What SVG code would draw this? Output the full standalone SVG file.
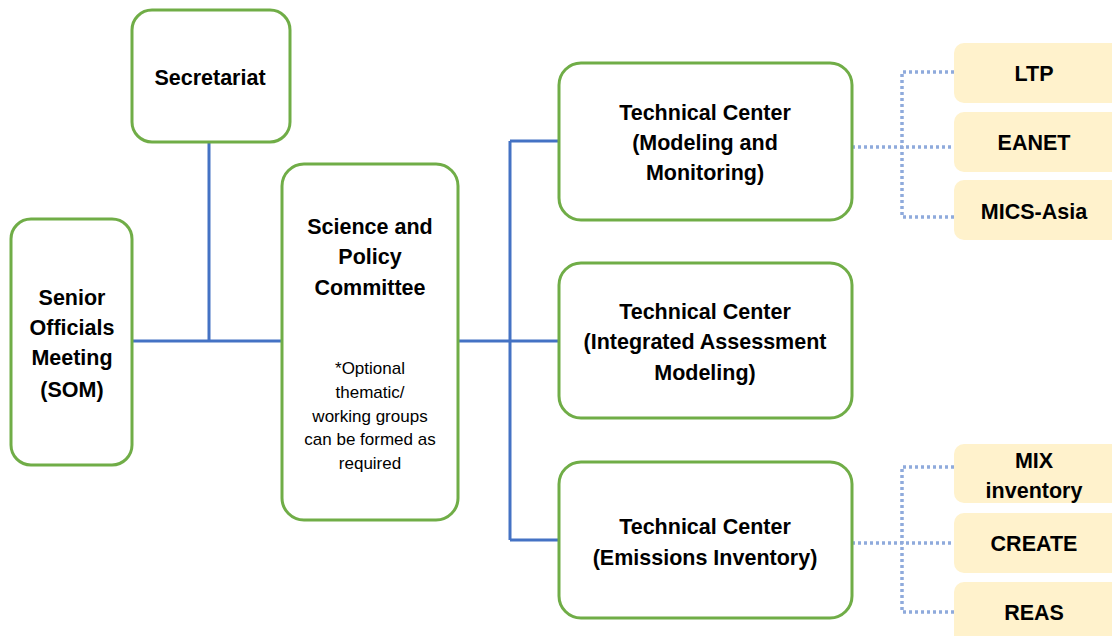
<svg xmlns="http://www.w3.org/2000/svg" width="1112" height="636" viewBox="0 0 1112 636">
<style>
.box{fill:#fff;stroke:#70AD47;stroke-width:3}
.sub{fill:#FFF2CC;stroke:none}
.t{font-family:"Liberation Sans",Arial,sans-serif;font-weight:bold;font-size:21.5px;fill:#000;text-anchor:middle}
.s{font-family:"Liberation Sans",Arial,sans-serif;font-size:17px;fill:#000;text-anchor:middle}
.ln{stroke:#4472C4;stroke-width:3;fill:none}
.dt{stroke:#8FAADC;stroke-width:3.5;fill:none;stroke-dasharray:3 3}
</style>
<rect width="1112" height="636" fill="#fff"/>
<g id="connectors">
<path class="ln" d="M209,142 V341 M132,341 H282 M458,341 H559 M510,141 V540 M510,141 H559 M510,540 H559"/>
<path class="dt" d="M852,147 H954 M954,72 H902 V217 H954"/>
<path class="dt" d="M852,543 H954 M954,467 H902 V612 H954"/>
</g>
<g id="secretariat">
<rect class="box" x="132" y="10" width="158" height="132" rx="20"/>
<text class="t" x="210" y="85">Secretariat</text>
</g>
<g id="som">
<rect class="box" x="11" y="219" width="121" height="246" rx="20"/>
<text class="t" x="72" y="305">Senior</text>
<text class="t" x="72" y="335">Officials</text>
<text class="t" x="72" y="365">Meeting</text>
<text class="t" x="72" y="397">(SOM)</text>
</g>
<g id="spc">
<rect class="box" x="282" y="164" width="176" height="356" rx="22"/>
<text class="t" x="370" y="234">Science and</text>
<text class="t" x="370" y="264">Policy</text>
<text class="t" x="370" y="295">Committee</text>
<text class="s" x="370" y="374">*Optional</text>
<text class="s" x="370" y="398">thematic/</text>
<text class="s" x="370" y="422">working groups</text>
<text class="s" x="370" y="445">can be formed as</text>
<text class="s" x="370" y="469">required</text>
</g>
<g id="tc1">
<rect class="box" x="559" y="63" width="293" height="157" rx="22"/>
<text class="t" x="705" y="120">Technical Center</text>
<text class="t" x="705" y="150">(Modeling and</text>
<text class="t" x="705" y="180">Monitoring)</text>
</g>
<g id="tc2">
<rect class="box" x="559" y="263" width="293" height="155" rx="22"/>
<text class="t" x="705" y="319">Technical Center</text>
<text class="t" x="705" y="349">(Integrated Assessment</text>
<text class="t" x="705" y="380">Modeling)</text>
</g>
<g id="tc3">
<rect class="box" x="559" y="462" width="293" height="156" rx="22"/>
<text class="t" x="705" y="534">Technical Center</text>
<text class="t" x="705" y="565">(Emissions Inventory)</text>
</g>
<g id="ltp">
<rect class="sub" x="954" y="43" width="170" height="60" rx="10"/>
<text class="t" x="1034" y="81">LTP</text>
</g>
<g id="eanet">
<rect class="sub" x="954" y="112" width="170" height="60" rx="10"/>
<text class="t" x="1034" y="150">EANET</text>
</g>
<g id="mics">
<rect class="sub" x="954" y="180" width="170" height="60" rx="10"/>
<text class="t" x="1034" y="219">MICS-Asia</text>
</g>
<g id="mix">
<rect class="sub" x="954" y="444" width="170" height="59" rx="10"/>
<text class="t" x="1034" y="468">MIX</text>
<text class="t" x="1034" y="498">inventory</text>
</g>
<g id="create">
<rect class="sub" x="954" y="513" width="170" height="60" rx="10"/>
<text class="t" x="1034" y="551">CREATE</text>
</g>
<g id="reas">
<rect class="sub" x="954" y="582" width="170" height="64" rx="10"/>
<text class="t" x="1034" y="620">REAS</text>
</g>
</svg>
